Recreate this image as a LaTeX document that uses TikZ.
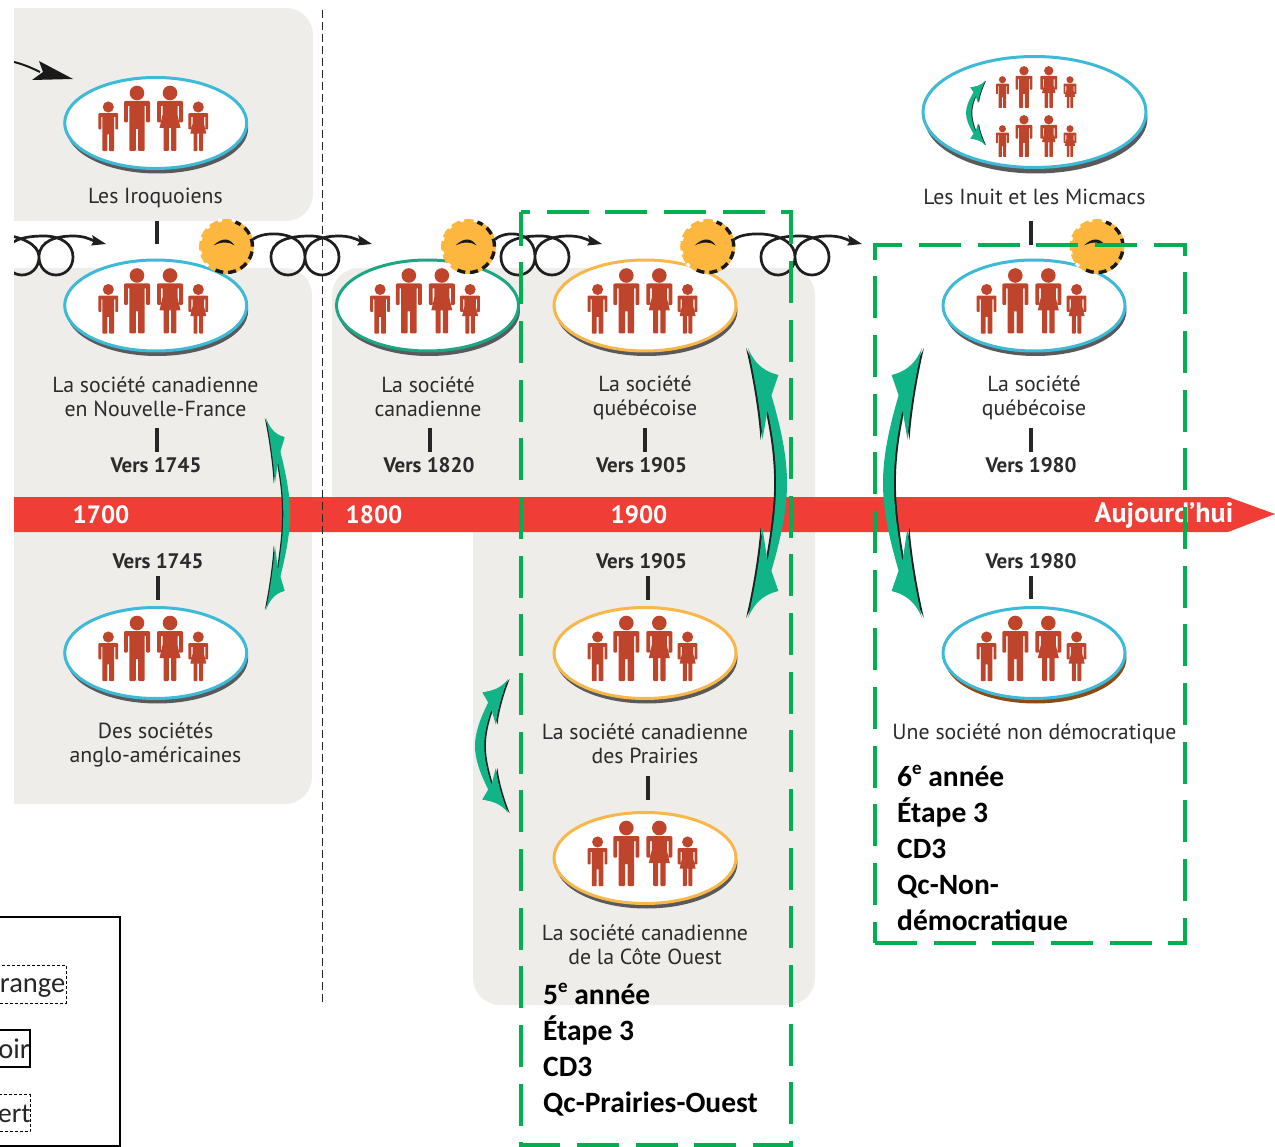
\documentclass[tikz,border=0pt]{standalone}
\usepackage{fontspec}
\usetikzlibrary{shapes.geometric}
\setmainfont{PT Sans}
\newfontfamily\calfont{Carlito}
\pgfdeclarelayer{backlayer}
\pgfsetlayers{backlayer,main}
\definecolor{panelc}{HTML}{EEEDE9}
\definecolor{bandc}{HTML}{F03E36}
\definecolor{ringblue}{HTML}{3DBAD8}
\definecolor{ringorange}{HTML}{F9B74A}
\definecolor{ringgreen}{HTML}{1BA784}
\definecolor{shgray}{HTML}{5A5A5C}
\definecolor{shbrown}{HTML}{8A4B14}
\definecolor{personc}{HTML}{BE452B}
\definecolor{arrowc}{HTML}{10B486}
\definecolor{gearc}{HTML}{FDB73E}
\definecolor{dashg}{HTML}{00B050}
\definecolor{txtc}{HTML}{2B2A2C}
\tikzset{
  panel/.style={fill=panelc},
  discnode/.style={ellipse,fill=white,inner sep=0pt,outer sep=0pt,minimum width=182pt,minimum height=91pt,line width=3pt},
  discshadow/.style={ellipse,inner sep=0pt,outer sep=0pt,minimum width=182pt,minimum height=91pt},
  lbl/.style={text=txtc,align=center,font=\fontsize{21.8}{24}\selectfont,inner sep=0pt},
  vers/.style={text=txtc,font=\bfseries\fontsize{21}{24}\selectfont,inner sep=0pt},
  yearlab/.style={text=white,font=\bfseries\fontsize{25}{30}\selectfont,inner sep=0pt},
  tickline/.style={line width=3.2pt,draw=black!85},
  coilline/.style={line width=2.7pt,draw=black!88},
  coilhead/.style={fill=black!88},
  gdash/.style={draw=dashg,line width=4pt,dash pattern=on 42pt off 16.67pt},
  notes/.style={font=\calfont\bfseries\fontsize{29.5}{36}\selectfont,align=left,inner sep=0pt,text=black},
  legendtxt/.style={font=\calfont\fontsize{28.5}{34}\selectfont,inner sep=0pt,text=black!85},
}
\newcommand\supe{\raisebox{12.5pt}{\fontsize{19}{19}\selectfont e}}
\newcommand\manshape[3]{\begin{scope}[shift={(#1,#2)},scale=#3]
\fill[personc] (0,0) circle[radius=7.3];
\fill[personc] (-13,9)--(-11.5,8)--(11.5,8)--(13,9)--(13,28.5)--(12,29.5)--(10,29.5)--(9.2,28.5)--(9.2,13)--(7.7,13)--(7.7,57)--(6.7,58)--(2.2,58)--(1.2,57)--(1.2,36)--(-1.2,36)--(-1.2,57)--(-2.2,58)--(-6.7,58)--(-7.7,57)--(-7.7,13)--(-9.2,13)--(-9.2,28.5)--(-10,29.5)--(-12,29.5)--(-13,28.5)--cycle;
\end{scope}}
\newcommand\womanshape[3]{\begin{scope}[shift={(#1,#2)},scale=#3]
\fill[personc] (0,0) circle[radius=7.3];
\fill[personc] (-13,9)--(-11.5,8)--(11.5,8)--(13,9)--(13,28.5)--(12,29.5)--(10,29.5)--(9.2,28.5)--(9.2,13)--(7.5,13)--(7.5,22)--(10.5,35)--(6.3,35)--(6.3,57)--(5.3,58)--(2,58)--(1.1,57)--(1.1,35)--(-1.1,35)--(-1.1,57)--(-2,58)--(-5.3,58)--(-6.3,57)--(-6.3,35)--(-10.5,35)--(-7.5,22)--(-7.5,13)--(-9.2,13)--(-9.2,28.5)--(-10,29.5)--(-12,29.5)--(-13,28.5)--cycle;
\end{scope}}
% x y scale hspacing
\newcommand\familygroup[4]{%
\manshape{#1-18.7*#4}{#2-30*#3}{#3}
\womanshape{#1+14.3*#4}{#2-30*#3}{#3}
\manshape{#1-47.4*#4}{#2-16*#3}{0.76*#3}
\womanshape{#1+42.6*#4}{#2-16*#3}{0.76*#3}}
% name x y ring shadow
\newcommand\discgroup[5]{%
\node[discshadow,fill=#5] (#1s) at (#2+1.5,#3+5) {};
\node[discnode,draw=#4] (#1) at (#2,#3) {};
\familygroup{#2}{#3}{1}{1}}
% name x y
\newcommand\geargroup[3]{%
\node[circle,fill=gearc,inner sep=0pt,outer sep=0pt,minimum size=55pt] (#1) at (#2,#3) {};
\draw[white,line width=3pt,dash pattern=on 4pt off 10pt] ([shift={(70:27pt)}]#1.center) arc[start angle=70,end angle=240,radius=27pt];
\draw[black!90,line width=3.4pt,dash pattern=on 8pt off 5pt] ([shift={(-115:26pt)}]#1.center) arc[start angle=-115,end angle=70,radius=26pt];
\fill[black!90] (#2-13,#3-1) .. controls (#2-5,#3-9) and (#2+3,#3-9) .. (#2+8,#3-1) .. controls (#2+3,#3-5) and (#2-5,#3-5) .. cycle;}
% start(node anchor) end(name)
\newcommand\coilcurve[2]{%
\draw[coilline] (#1) .. controls +(10,-9) and ([shift={(-67,-14)}]#2) .. ([shift={(-67,13)}]#2)
 .. controls ([shift={(-67,24)}]#2) and ([shift={(-75,31)}]#2) .. ([shift={(-84,31)}]#2)
 .. controls ([shift={(-93,31)}]#2) and ([shift={(-101,24)}]#2) .. ([shift={(-101,13)}]#2)
 .. controls ([shift={(-101,-3)}]#2) and ([shift={(-84,-8)}]#2) .. ([shift={(-62,-8)}]#2)
 .. controls ([shift={(-45,-8)}]#2) and ([shift={(-33,0)}]#2) .. ([shift={(-33,13)}]#2)
 .. controls ([shift={(-33,24)}]#2) and ([shift={(-41,31)}]#2) .. ([shift={(-50,31)}]#2)
 .. controls ([shift={(-59,31)}]#2) and ([shift={(-67,24)}]#2) .. ([shift={(-67,13)}]#2)
 .. controls ([shift={(-67,-3)}]#2) and ([shift={(-50,-8)}]#2) .. ([shift={(-33,-8)}]#2)
 .. controls ([shift={(-24,-8)}]#2) and ([shift={(-17,-6)}]#2) .. ([shift={(-10,-2)}]#2);
\fill[coilhead] (#2) -- ([shift={(-14,-9)}]#2) -- ([shift={(-12,-3)}]#2) -- ([shift={(-15,1.5)}]#2) -- cycle;}
\newcommand\arrowshape{(0,-1) .. controls (.2,-.86) and (.5,-.82) .. (.78,-.8) -- (.6,-.65) .. controls (.85,-.4) and (1,-.2) .. (1,0) .. controls (1,.2) and (.85,.4) .. (.6,.65) -- (.78,.8) .. controls (.5,.82) and (.2,.86) .. (0,1) .. controls (.2,.75) and (.33,.5) .. (.37,.32) -- (.5,.54) .. controls (.64,.35) and (.72,.18) .. (.72,0) .. controls (.72,-.18) and (.64,-.35) .. (.5,-.58) -- (.37,-.33) .. controls (.33,-.5) and (.2,-.75) .. (0,-1) -- cycle}
% tipx midy W H
\newcommand\biarrow[4]{%
\begin{scope}[shift={(#1-0.05*#3,#2)},x=#3pt,y=#4pt]\fill[black!88] \arrowshape;\end{scope}
\begin{scope}[shift={(#1,#2)},x=#3pt,y=#4pt]\fill[arrowc] \arrowshape;\end{scope}}
\begin{document}
\begin{tikzpicture}[x=1pt,y=-1pt]
\useasboundingbox (0,0) rectangle (1275,1147);
\begin{pgfonlayer}{backlayer}
\begin{scope}
\clip (0,0) rectangle (1275,1147);
% panels
\fill[panel] (14,8) [rounded corners=27pt] -- (313,8) -- (313,221) [sharp corners] -- (14,221) -- cycle;
\fill[panel] (14,268) [rounded corners=27pt] -- (312,268) -- (312,804) [sharp corners] -- (14,804) -- cycle;
\fill[panel] (332,515) [rounded corners=27pt] -- (332,268) -- (815,268) -- (815,1005) -- (473,1005) [sharp corners] -- (473,515) -- cycle;
% band
\fill[bandc] (14,497) -- (1228,497) -- (1275,514) -- (1228,532) -- (14,532) -- cycle;
% separator
\coordinate (septop) at (322,10);
\coordinate (sepbot) at (322,1005);
\draw[black!85,line width=.8pt,dash pattern=on 8pt off 4pt] (septop) -- (sepbot);
% discs
\discgroup{iroq}{155.7}{123}{ringblue}{shgray}
\discgroup{nf}{155.7}{305.5}{ringblue}{shgray}
\discgroup{anglo}{155.7}{653}{ringblue}{shgray}
\discgroup{canada}{427.5}{305.5}{ringgreen}{shgray}
\discgroup{qc}{645}{305.5}{ringorange}{shgray}
\discgroup{prairies}{645}{653}{ringorange}{shgray}
\discgroup{ouest}{645}{858}{ringorange}{shgray}
\discgroup{qcb}{1034}{305.5}{ringblue}{shgray}
\discgroup{nondem}{1034}{653}{ringblue}{shbrown}
\node[discshadow,fill=shgray,minimum width=223pt,minimum height=111pt] (inuits) at (1036,118) {};
\node[discnode,draw=ringblue,minimum width=223pt,minimum height=111pt] (inuit) at (1034.5,112) {};
\familygroup{1038}{90}{.64}{.75}
\familygroup{1038}{139}{.64}{.75}
\biarrow{985}{113}{-19}{32}
\end{scope}
\end{pgfonlayer}
% gears
\geargroup{g1}{226.5}{246.5}
\geargroup{g2}{468.5}{246.5}
\geargroup{g3}{707.7}{246.5}
\geargroup{g4}{1097}{246.5}
% coils
\coordinate (coil0start) at (-47,238);
\coordinate (coil0end) at (106,244);
\coordinate (coil1end) at (372,244);
\coordinate (coil2end) at (602,244);
\coordinate (coil3end) at (862,244);
\coordinate (arrowstart) at (14,62);
\coordinate (arrowtip) at (73,79);
\begin{scope}
\clip (14,0) rectangle (400,400);
\coilcurve{coil0start}{coil0end}
\draw[black!90,line width=2pt] (arrowstart) .. controls (22,64) and (30,67) .. (40,72);
\fill[black!90] (arrowtip) -- (39,61) -- (43,72) -- (32,80) -- cycle;
\end{scope}
\coilcurve{g1.15}{coil1end}
\coilcurve{g2.15}{coil2end}
\coilcurve{g3.15}{coil3end}
% ticks
\coordinate (t1a) at (157,221); \coordinate (t1b) at (157,244);
\coordinate (t2a) at (157,428); \coordinate (t2b) at (157,452);
\coordinate (t3a) at (430,428); \coordinate (t3b) at (430,452);
\coordinate (t4a) at (645,428); \coordinate (t4b) at (645,452);
\coordinate (t5a) at (1031,428); \coordinate (t5b) at (1031,452);
\coordinate (t6a) at (158,576); \coordinate (t6b) at (158,600);
\coordinate (t7a) at (648,576); \coordinate (t7b) at (648,600);
\coordinate (t8a) at (1031,576); \coordinate (t8b) at (1031,599);
\coordinate (t9a) at (648,776); \coordinate (t9b) at (648,800);
\coordinate (t10a) at (1031,221); \coordinate (t10b) at (1031,245);
\foreach \k in {1,...,10} {\draw[tickline] (t\k a) -- (t\k b);}
% labels
\node[lbl] (liroq) at (155.5,197.5) {Les Iroquoiens};
\node[lbl] (lnf) at (155.5,396.5) {La société canadienne\\en Nouvelle-France};
\node[lbl] (langlo) at (155.5,745) {Des sociétés\\anglo-américaines};
\node[lbl] (lcanada) at (428,396.5) {La société\\canadienne};
\node[lbl] (lqc) at (645,398) {La société\\québécoise};
\node[lbl] (lqcb) at (1034,398) {La société\\québécoise};
\node[lbl] (lprairies) at (645,744) {La société canadienne\\des Prairies};
\node[lbl] (louest) at (645,945) {La société canadienne\\de la Côte Ouest};
\node[lbl] (lnondem) at (1034.5,733.5) {Une société non démocratique};
\node[lbl] (linuit) at (1034.5,197) {Les Inuit et les Micmacs};
\node[vers] (v1) at (156,465) {Vers 1745};
\node[vers] (v2) at (158,561) {Vers 1745};
\node[vers] (v3) at (429,465) {Vers 1820};
\node[vers] (v4) at (641.5,465) {Vers 1905};
\node[vers] (v5) at (641.5,561) {Vers 1905};
\node[vers] (v6) at (1031,465) {Vers 1980};
\node[vers] (v7) at (1031,561) {Vers 1980};
\node[yearlab] (y1700) at (101,515) {1700};
\node[yearlab] (y1800) at (374,515) {1800};
\node[yearlab] (y1900) at (639,515) {1900};
\node[yearlab,font=\bfseries\fontsize{28}{30}\selectfont] (ynow) at (1164,515) {Aujourd'hui};
% green arrows
\biarrow{266}{514}{24}{96}
\biarrow{748}{483}{39}{135}
\biarrow{922}{483}{-39}{135}
\biarrow{508}{746}{-33}{67}
% notes
\node[notes,anchor=base west] (note5) at (543,1112.5) {5\supe{} année\\Étape 3\\CD3\\Qc-Prairies-Ouest};
\begin{scope}
\clip (880,750) rectangle (1180,931);
\node[notes,anchor=base west] (note6) at (897,930.5) {6\supe{} année\\Étape 3\\CD3\\Qc-Non-\\démocratique};
\end{scope}
% dashed frames
\draw[gdash,dash phase=33pt] (521,212) -- (791,212) -- (791,1145) -- (521,1145) -- cycle;
\draw[gdash] (875,943) -- (1185,943) -- (1185,245) -- (875,245) -- cycle;
% legend
\begin{scope}
\clip (0,0) rectangle (1275,1147);
\draw[black,line width=1.5pt] (-5,917) -- (120,917) -- (120,1146) -- (-5,1146);
\node[draw=black,densely dashed,line width=.7pt,fill=white,inner sep=0pt,minimum width=71pt,minimum height=38pt] (legor) at (30.5,984) {};
\node[legendtxt,anchor=east] (ltor) at (65.5,988.5) {range};
\node[draw=black,line width=1.4pt,fill=white,inner sep=0pt,minimum width=35pt,minimum height=37pt] (legno) at (12.5,1048.5) {};
\node[legendtxt,anchor=east] (ltno) at (30,1049) {oir};
\node[draw=black,densely dashed,line width=.7pt,fill=white,inner sep=0pt,minimum width=35pt,minimum height=37pt] (legve) at (12.5,1113) {};
\node[legendtxt,anchor=east,font=\calfont\fontsize{27.5}{34}\selectfont] (ltve) at (30.8,1113.5) {ert};
\end{scope}
\end{tikzpicture}
\end{document}
